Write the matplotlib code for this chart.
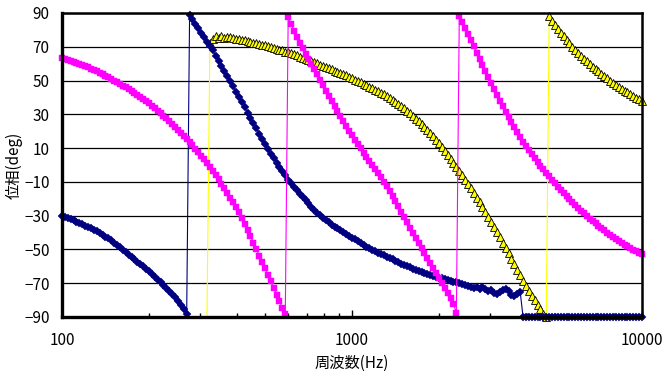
import numpy as np
import matplotlib
matplotlib.use("Agg")
import matplotlib.pyplot as plt
from matplotlib.ticker import LogLocator, NullFormatter, FuncFormatter

plt.rcParams["font.family"] = ["Noto Sans CJK JP", "DejaVu Sans"]

# sweep: 100 Hz .. 10 kHz, 100 points per decade
freq = np.logspace(2, 4, 201)

# phase (deg), wrapped
navy_phase = [
    -30.0, -30.7, -31.4, -32.1, -32.8, -33.6, -34.4, -35.2, -36.0, -36.8,
    -37.5, -38.4, -39.3, -40.3, -41.3, -42.4, -43.5, -44.7, -46.0, -47.4,
    -48.8, -50.2, -51.6, -53.0, -54.4, -55.8, -57.2, -58.6, -60.0, -61.5,
    -63.0, -64.6, -66.2, -67.8, -69.5, -71.2, -73.0, -74.8, -76.6, -78.4,
    -80.5, -82.7, -85.3, -88.0, 89.0, 86.3, 83.6, 81.0, 78.3, 75.6,
    73.0, 70.5, 67.8, 64.8, 61.8, 58.7, 55.6, 52.6, 49.6, 46.5,
    43.4, 40.3, 37.2, 34.1, 31.0, 27.9, 24.8, 21.7, 18.6, 15.6,
    12.6, 9.6, 6.8, 4.0, 1.3, -1.3, -3.8, -6.2, -8.6, -10.8,
    -12.9, -15.0, -17.0, -18.9, -20.8, -22.7, -24.6, -26.4, -28.2, -29.8,
    -31.3, -32.7, -34.0, -35.3, -36.5, -37.6, -38.7, -39.7, -40.8, -41.9,
    -43.0, -44.1, -45.2, -46.3, -47.4, -48.4, -49.3, -50.2, -51.1, -51.9,
    -52.7, -53.5, -54.3, -55.1, -55.9, -56.8, -57.7, -58.5, -59.2, -59.9,
    -60.6, -61.3, -62.0, -62.7, -63.4, -64.0, -64.7, -65.4, -66.0, -66.4,
    -66.8, -67.2, -67.6, -68.0, -68.5, -69.0, -69.5, -70.0, -70.6, -71.2,
    -71.8, -72.0, -72.8, -72.3, -73.2, -72.5, -73.6, -74.8, -73.9, -75.5,
    -76.2, -75.0, -74.2, -73.6, -74.4, -76.8, -77.8, -76.5, -75.2,
] + [-90.0] * 42

magenta_phase = [
    63.2, 62.6, 62.1, 61.6, 61.0, 60.5, 59.9, 59.3, 58.6, 57.9,
    57.1, 56.3, 55.5, 54.6, 53.7, 52.8, 51.9, 51.0, 50.0, 49.0,
    48.0, 47.0, 46.0, 45.0, 43.9, 42.8, 41.6, 40.4, 39.1, 37.8,
    36.5, 35.1, 33.7, 32.2, 30.7, 29.2, 27.6, 26.0, 24.3, 22.6,
    20.9, 19.1, 17.3, 15.5, 13.6, 11.7, 9.7, 7.7, 5.6, 3.5,
    1.3, -1.0, -3.4, -5.9, -8.5, -11.1, -13.8, -16.5, -19.3, -22.1,
    -25.0, -28.0, -31.5, -35.0, -38.5, -42.2, -46.0, -49.8, -53.6, -57.4,
    -61.2, -65.0, -68.9, -72.8, -76.7, -80.6, -84.5, -88.5, 87.5, 83.5,
    79.5, 75.8, 72.3, 69.0, 65.8, 62.7, 59.7, 56.7, 53.6, 50.4,
    47.2, 44.0, 40.9, 37.9, 34.9, 31.9, 29.0, 26.1, 23.2, 20.4,
    17.7, 15.0, 12.4, 9.8, 7.2, 4.6, 2.5, 0.2, -2.2, -4.7,
    -7.3, -9.9, -12.6, -15.4, -18.3, -21.3, -24.4, -27.6, -30.8, -34.0,
    -37.2, -40.3, -43.3, -46.3, -49.3, -52.2, -55.1, -58.0, -60.9, -63.8,
    -66.7, -69.6, -72.6, -75.7, -79.0, -82.5, -87.5, 88.0, 84.6, 81.0,
    77.4, 73.8, 70.2, 66.6, 63.0, 59.4, 55.8, 52.2, 48.6, 45.0,
    41.5, 38.1, 34.8, 31.6, 28.4, 25.3, 22.3, 19.4, 16.6, 13.9,
    11.3, 8.8, 6.4, 4.1, 1.9, -0.3, -2.5, -4.7, -6.8, -8.9,
    -10.9, -12.8, -14.7, -16.5, -18.3, -20.1, -21.9, -23.6, -25.3, -27.0,
    -28.6, -30.2, -31.7, -33.2, -34.6, -36.0, -37.4, -38.7, -40.0, -41.3,
    -42.5, -43.7, -44.9, -46.0, -47.1, -48.2, -49.2, -50.2, -51.1, -52.0,
    -52.9,
]

yellow_phase = [-90.0] * 51 + [
    72.5, 74.5, 76.5, 75.0, 76.2, 75.0, 75.8, 75.5, 75.2,
    74.9, 74.6, 74.2, 73.8, 73.4, 73.0, 72.5, 72.1, 71.7, 71.2,
    70.8, 70.3, 69.8, 69.3, 68.8, 68.3, 67.8, 67.2, 66.7, 66.1,
    65.5, 64.9, 64.2, 63.6, 62.9, 62.2, 61.5, 60.8, 60.1, 59.4,
    58.7, 58.0, 57.3, 56.6, 55.9, 55.2, 54.5, 53.8, 53.0, 52.2,
    51.4, 50.6, 49.8, 49.0, 48.2, 47.3, 46.4, 45.5, 44.6, 43.7,
    42.9, 41.8, 40.7, 39.6, 38.5, 37.4, 36.2, 34.9, 33.5, 32.0,
    30.5, 29.0, 27.4, 25.8, 24.1, 22.4, 20.6, 18.8, 16.9, 14.9,
    12.8, 10.6, 8.4, 6.1, 3.8, 1.4, -1.0, -3.5, -6.1, -8.7,
    -11.3, -13.9, -16.6, -19.3, -22.0, -24.8, -27.7, -30.6, -33.6, -36.6,
    -39.7, -42.8, -46.0, -49.2, -52.4, -55.6, -58.8, -62.0, -65.2, -68.4,
    -71.5, -74.5, -77.4, -80.2, -82.9, -85.5, -88.0, -89.9, 88.0, 85.4,
    83.0, 80.6, 78.3, 76.1, 74.0, 72.0, 70.1, 68.2, 66.4, 64.7,
    63.0, 61.4, 59.8, 58.3, 56.8, 55.4, 54.0, 52.6, 51.3, 50.0,
    48.8, 47.6, 46.4, 45.2, 44.1, 43.0, 41.9, 40.9, 39.9, 38.9,
    37.9,
]
# yellow points below the axis range have no visible marker
YELLOW_FIRST_MARKER = 51

Y_TICKS = list(range(-90, 91, 20))


def main():
    fig = plt.figure(figsize=(6.63, 3.79), dpi=100)
    ax = fig.add_axes([0.0935, 0.1636, 0.8748, 0.8021])

    ax.yaxis.grid(True, color="black", lw=0.9)
    ax.set_axisbelow(True)

    ax.plot(freq, yellow_phase, color="#ffff00", lw=0.8, marker="^", ms=5.5,
            mfc="#ffff00", mec="black", mew=0.6,
            markevery=slice(YELLOW_FIRST_MARKER, None), clip_on=False, zorder=3)
    ax.plot(freq, navy_phase, color="#000080", lw=0.8, marker="D", ms=3.8,
            mfc="#000080", mec="#000080", mew=0.3, clip_on=False, zorder=4)
    ax.plot(freq, magenta_phase, color="#ff00ff", lw=0.8, marker="s", ms=4.0,
            mfc="#ff00ff", mec="#ff00ff", mew=0.3, clip_on=False, zorder=5)

    ax.set_xscale("log")
    ax.set_xlim(100, 10000)
    ax.set_ylim(-90, 90)
    ax.set_yticks(Y_TICKS)

    ax.xaxis.set_major_locator(LogLocator(base=10, numticks=5))
    ax.xaxis.set_minor_locator(LogLocator(base=10, subs=np.arange(2, 10), numticks=20))
    ax.xaxis.set_minor_formatter(NullFormatter())
    ax.xaxis.set_major_formatter(FuncFormatter(lambda v, p: "%d" % round(v)))

    ax.tick_params(axis="x", which="major", direction="in", length=5, width=1,
                   pad=11, labelsize=11)
    ax.tick_params(axis="x", which="minor", direction="in", length=3, width=1)
    ax.tick_params(axis="y", length=0, pad=9, labelsize=11)

    for side in ("top", "right"):
        ax.spines[side].set_linewidth(1.8)
    for side in ("left", "bottom"):
        ax.spines[side].set_linewidth(2.4)
    for sp in ax.spines.values():
        sp.set_zorder(6)

    ax.set_xlabel("周波数(Hz)", fontsize=11, labelpad=4)
    ax.set_ylabel("位相(deg)", fontsize=11)
    ax.yaxis.set_label_coords(-0.068, 0.5)

    fig.savefig("out.png", dpi=100)


if __name__ == "__main__":
    main()
